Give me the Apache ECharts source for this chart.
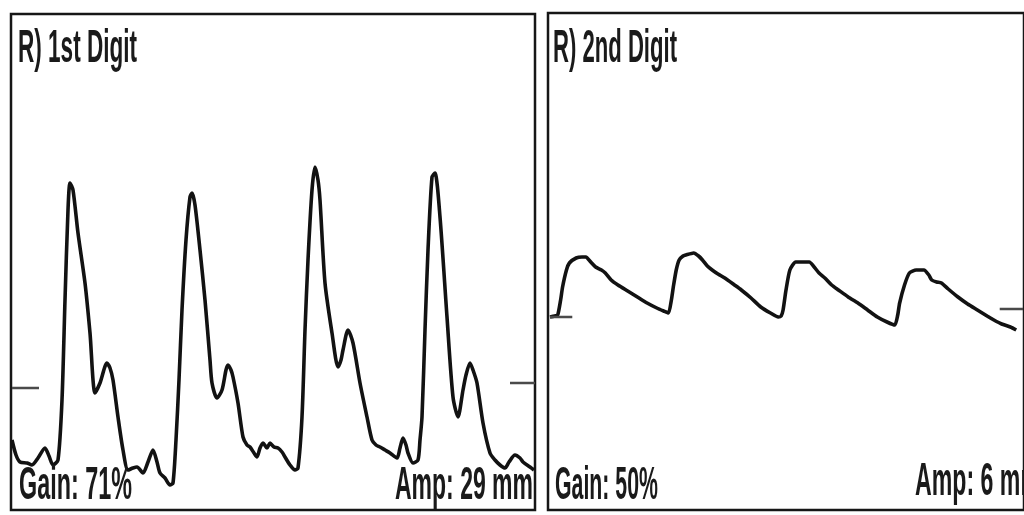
<!DOCTYPE html>
<html>
<head>
<meta charset="utf-8">
<script src="https://cdn.jsdelivr.net/npm/echarts@6/dist/echarts.min.js"></script>
<style>
  html, body { margin: 0; padding: 0; background: #fff; }
  #chart { width: 1024px; height: 515px; }
</style>
</head>
<body>
<div id="chart"></div>
<script>
// ---- Data (time in samples, amplitude in relative trace units) ----
const panelTitles = ['R) 1st Digit', 'R) 2nd Digit'];
const gainLabels = ['Gain: 71%', 'Gain: 50%'];
const ampLabels = ['Amp: 29 mm', 'Amp: 6 mm'];

// 1st digit pulse trace [time, amplitude]
const digit1Trace = [
  [2,72],[6,57],[10,50],[17,49],[22,47],[28,54],[35,64],[39,56],[43,47],[48,52],
  [52,112],[55,212],[58,302],[60,329],[63,322],[68,279],[75,229],[80,179],[85,119],[90,129],
  [97,149],[100,144],[103,132],[108,95],[113,62],[118,42],[123,44],[127,45],[133,39],[138,50],
  [143,62],[147,50],[150,39],[155,34],[160,27],[163,29],[166,72],[169,132],[172,202],[176,272],
  [180,315],[182,319],[185,307],[190,262],[195,212],[200,152],[202,129],[207,114],[212,122],[216,142],
  [218,147],[221,142],[223,135],[228,109],[233,75],[237,67],[240,65],[244,59],[247,55],[250,64],
  [253,69],[257,64],[260,69],[264,65],[268,64],[272,60],[275,55],[280,47],[285,42],[288,44],
  [292,95],[295,182],[298,252],[302,322],[305,345],[308,332],[310,312],[315,229],[322,179],[328,145],
  [331,152],[333,162],[338,182],[343,169],[350,129],[357,95],[362,72],[366,67],[370,65],[375,62],
  [380,59],[387,54],[390,64],[393,74],[396,67],[398,59],[403,49],[408,52],[410,72],[412,95],
  [415,182],[418,262],[422,335],[425,339],[430,295],[437,195],[443,115],[448,95],[453,122],[456,137],
  [460,149],[463,142],[467,129],[473,89],[480,59],[485,52],[490,47],[495,44],[499,50],[505,57],
  [510,54],[513,50],[520,45],[524,42]
];
// 2nd digit pulse trace [time, amplitude]
const digit2Trace = [
  [3,194],[8,195],[11,196],[14,211],[16,224],[20,241],[23,248],[30,253],[36,254],[40,254],
  [45,249],[50,244],[56,241],[60,238],[66,231],[73,226],[83,220],[93,214],[103,208],[113,203],
  [120,200],[125,198],[128,211],[130,224],[133,241],[136,251],[140,255],[143,256],[151,258],[156,255],
  [160,251],[165,245],[170,241],[176,237],[183,233],[193,226],[200,221],[210,213],[220,204],[230,198],
  [238,194],[241,195],[243,201],[246,221],[250,241],[256,249],[263,249],[270,249],[275,244],[280,238],
  [286,233],[293,226],[300,221],[310,214],[320,208],[330,201],[340,194],[350,189],[358,186],[361,196],
  [363,208],[368,226],[373,238],[380,241],[388,241],[393,236],[396,231],[401,229],[406,228],[413,222],
  [423,214],[433,207],[443,201],[453,195],[460,191],[468,187],[477,184],[483,181]
];
// baseline reference ticks [time, amplitude]
const digit1BaseLeft = [[2,124],[29,124]];
const digit1BaseRight = [[500,129],[525,129]];
const digit2BaseLeft = [[3,194],[26,194]];
const digit2BaseRight = [[466,202],[490,202]];

// ---- Chart ----
const chart = echarts.init(document.getElementById('chart'), null, { renderer: 'canvas' });

const FONT = '"Liberation Sans Narrow", "Liberation Sans", Arial, sans-serif';
const FS = 46;
const WEIGHT = 'bold';
const measureCtx = document.createElement('canvas').getContext('2d');
function textW(t) { measureCtx.font = WEIGHT + ' ' + FS + 'px ' + FONT; return measureCtx.measureText(t).width; }
function label(text, x, cy, targetW) {
  return {
    type: 'text', x: x, y: cy, scaleX: targetW / textW(text), z: 100,
    style: { text: text, font: WEIGHT + ' ' + FS + 'px ' + FONT, fill: '#1a1a1a', align: 'left', verticalAlign: 'middle' }
  };
}

const traceStyle = { color: '#121212', width: 3.6 };
const tickStyle = { color: '#4a4a4a', width: 2.5 };

const option = {
  backgroundColor: '#ffffff',
  animation: false,
  grid: [
    { left: 11, top: 14, width: 524, height: 496, show: true, borderColor: '#161616', borderWidth: 2.5, backgroundColor: 'transparent' },
    { left: 548, top: 13, width: 490, height: 497, show: true, borderColor: '#161616', borderWidth: 2.5, backgroundColor: 'transparent' }
  ],
  xAxis: [
    { type: 'value', gridIndex: 0, min: 1, max: 525, show: false },
    { type: 'value', gridIndex: 1, min: 1, max: 491, show: false }
  ],
  yAxis: [
    { type: 'value', gridIndex: 0, min: 2, max: 498, show: false },
    { type: 'value', gridIndex: 1, min: 1, max: 498, show: false }
  ],
  series: [
    { type: 'line', xAxisIndex: 0, yAxisIndex: 0, data: digit1Trace, showSymbol: false, smooth: 0.25, lineStyle: traceStyle, clip: true },
    { type: 'line', xAxisIndex: 1, yAxisIndex: 1, data: digit2Trace, showSymbol: false, smooth: 0.2, lineStyle: traceStyle, clip: true },
    { type: 'line', xAxisIndex: 0, yAxisIndex: 0, data: digit1BaseLeft, showSymbol: false, lineStyle: tickStyle },
    { type: 'line', xAxisIndex: 0, yAxisIndex: 0, data: digit1BaseRight, showSymbol: false, lineStyle: tickStyle },
    { type: 'line', xAxisIndex: 1, yAxisIndex: 1, data: digit2BaseLeft, showSymbol: false, lineStyle: tickStyle },
    { type: 'line', xAxisIndex: 1, yAxisIndex: 1, data: digit2BaseRight, showSymbol: false, lineStyle: tickStyle }
  ],
  graphic: [
    label(panelTitles[0], 18, 49, 119),
    label(panelTitles[1], 553, 49, 124),
    label(gainLabels[0], 19, 486, 113),
    label(ampLabels[0], 395, 486, 138),
    label(gainLabels[1], 555, 486, 103),
    label(ampLabels[1], 915, 482, 126)
  ]
};
chart.setOption(option);
</script>
</body>
</html>
